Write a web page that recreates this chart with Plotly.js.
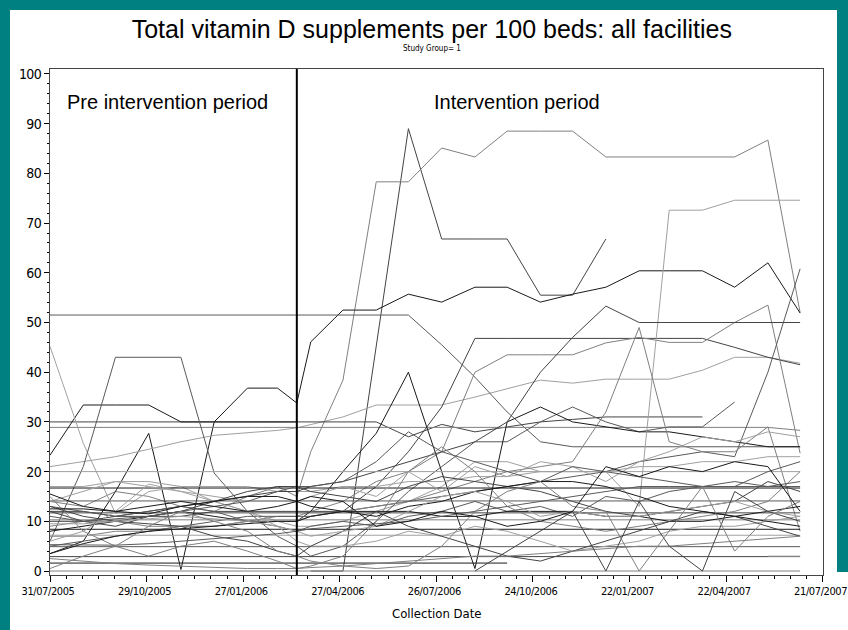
<!DOCTYPE html>
<html>
<head>
<meta charset="utf-8">
<script src="https://cdn.plot.ly/plotly-3.0.1.min.js"></script>
<style>
html,body{margin:0;padding:0;background:#008080;width:848px;height:630px;overflow:hidden;}
#chart{position:absolute;left:10px;top:10px;width:838px;height:620px;background:#fff;}
#rightband{position:absolute;left:837px;top:0;width:11px;height:572px;background:#008080;}
.xtick text{letter-spacing:-0.4px;}
.ytick text{letter-spacing:-0.6px;}
</style>
</head>
<body>
<div id="chart"></div>
<div id="rightband"></div>
<script>
// Collection dates (monthly collections, plus one at intervention start)
const dates = ['2005-07-31','2005-08-31','2005-09-30','2005-10-31','2005-11-30','2005-12-31',
  '2006-01-31','2006-02-28','2006-03-18','2006-03-31','2006-04-30','2006-05-31','2006-06-30',
  '2006-07-31','2006-08-31','2006-09-30','2006-10-31','2006-11-30','2006-12-31','2007-01-31',
  '2007-02-28','2007-03-31','2007-04-30','2007-05-31','2007-06-30'];
const interventionStart = '2006-03-18';
const tickDates = ['2005-07-31','2005-10-29','2006-01-27','2006-04-27','2006-07-26','2006-10-24','2007-01-22','2007-04-22','2007-07-21'];
const tickLabels = ['31/07/2005','29/10/2005','27/01/2006','27/04/2006','26/07/2006','24/10/2006','22/01/2007','22/04/2007','21/07/2007'];

// Supplements per 100 beds, one array per facility (null = not collected)
const f01 = [null,null,null,null,null,null,null,null,null,0,0,null,89,66.8,66.8,66.8,55.5,55.5,66.8,null,null,null,null,null,null];
const f02 = [14,13,16,15,13,12,15,17,15,24,38.4,78.3,78.3,85.1,83.3,88.5,88.5,88.5,83.3,83.3,83.3,83.3,83.3,86.7,52];
const f03 = [3.5,6,16,27.7,0.3,30,36.8,36.8,33.8,46.1,52.5,52.5,55.7,54.1,57.1,57.1,54.1,55.7,57.1,60.4,60.4,60.4,57.1,62,51.9];
const f04 = [21,22,23,24.5,26,27.3,27.8,28.3,28.8,29.5,31,33.4,33.4,33.4,35,36.7,38.4,37.8,38.6,38.6,38.6,40.4,43,43,41.8];
const f05 = [51.5,51.5,51.5,51.5,51.5,51.5,51.5,51.5,51.5,51.5,51.5,51.5,51.5,45.5,39,32,26,25,25,25,25,25,25,25,25];
const f06 = [30,30,30,30,30,30,30,30,30,30,30,30,27,29.5,28,29,30,30.5,31,31,31,31,null,null,null];
const f07 = [28.9,28.9,28.9,28.9,28.9,28.9,28.9,28.9,28.9,28.9,28.9,28.9,28.9,28.9,28.9,28.9,28.9,28.9,28.9,28.9,28.9,28.9,28.9,28.9,28.3];
const f08 = [23.3,33.4,33.4,33.4,30,30,30,30,30,null,null,null,null,null,null,null,null,null,null,null,null,null,null,null,null];
const f09 = [45.2,25.7,11.6,16,17,14,12,10,9,9,10,12,14,17,22,22,20,20,20,21,21,22,22,23,23];
const f10 = [6,21,43,43,43,19.7,12,7,5,3,5,10,16,21,26,26,30,33,30,28,29,29,34,null,null];
const f11 = [12,12,11,11,11,12,12,12,12,12,12,17,24,33,46.8,46.8,46.8,46.8,46.8,46.8,46.8,46.8,45,43,41.5];
const f12 = [9,10,10,9,9,9,10,11,11,12,14,18,20,24,40,43.5,43.5,43.5,45.9,47,46,46,50,53.5,23.7];
const f13 = [8,9,10,11,12,11,10,10,10,12,20,27.7,40,20,0.5,30,33,30,29,28,28,27,26,25,25];
const f14 = [17,17,18,18,17,17,17,16,16,16,17,17,18,18,19,19,20,20,20,13,72.6,72.6,74.6,74.6,74.6];
const f15 = [5,6,7,8,9,10,11,11,11,11,12,13,14,15,16,17,18,19,20,22,23,24,23,40,60.8];
const f16 = [10,10,11,12,13,14,15,16,16,17,18,20,22,24,26,30,40,47,53.3,50,50,50,50,50,50];
const f17 = [7,7,8,8,9,9,10,10,10,11,12,13,14,16,18,20,21,22,32,49,26,24,24,29,8];
const f18 = [16.7,16.7,16.7,16.7,16.7,16.7,16.7,16.7,16.7,16.7,16.7,16.7,16.7,16.7,16.7,16.7,16.7,16.7,16.7,16.7,16.7,16.7,16.7,16.7,16.7];
const f19 = [20,20,20,20,20,20,20,20,20,20,20,20,20,20,20,20,20,20,20,20,20,20,20,20,20];
const f20 = [14.1,14.1,14.1,14.1,14.1,14.1,14.1,14.1,14.1,14.1,14.1,14.1,14.1,14.1,14.1,14.1,14.1,14.1,14.1,14.1,14.1,14.1,14.1,14.1,14.1];
const f21 = [11.7,11.7,11.7,11.7,11.7,11.7,11.7,11.7,11.7,11.7,11.7,11.7,11.7,11.7,11.7,11.7,11.7,11.7,11.7,11.7,11.7,11.7,11.7,11.7,11.7];
const f22 = [10.3,10.3,10.3,10.3,10.3,10.3,10.3,10.3,10.3,10.3,10.3,10.3,10.3,10.3,10.3,10.3,10.3,10.3,10.3,10.3,10.3,10.3,10.3,10.3,10.3];
const f23 = [8.4,8.4,8.4,8.4,8.4,8.4,8.4,8.4,8.4,8.4,8.4,8.4,8.4,8.4,8.4,8.4,8.4,8.4,8.4,8.4,8.4,8.4,8.4,8.4,8.4];
const f24 = [7.2,7.2,7.2,7.2,7.2,7.2,7.2,7.2,7.2,7.2,7.2,7.2,7.2,7.2,7.2,7.2,7.2,7.2,7.2,7.2,7.2,7.2,7.2,7.2,7.2];
const f25 = [4.9,4.9,4.9,4.9,4.9,4.9,4.9,4.9,4.9,4.9,4.9,4.9,4.9,4.9,4.9,4.9,4.9,4.9,4.9,4.9,4.9,4.9,4.9,4.9,4.9];
const f26 = [2.9,2.9,2.9,2.9,2.9,2.9,2.9,2.9,2.9,2.9,2.9,2.9,2.9,2.9,2.9,2.9,2.9,2.9,2.9,2.9,2.9,2.9,2.9,2.9,2.9];
const f27 = [0,0,0,0,0,0,0,0,0,0,0,0,0,0,0,0,0,0,0,0,0,0,0,0,0];
const f28 = [1.6,1.6,1.6,1.6,1.6,1.6,1.6,1.6,1.6,1.6,1.6,1.6,1.6,1.6,1.6,1.6,null,null,null,null,null,null,null,null,null];
const f29 = [14,16,18,17,16,15,14,14,14,15,17,15,20,16,21,19,22,21,18,22,24,27,26,28,27];
const f30 = [13,12,11,12,13,12,10,9,8,9,10,9,11,12,14,12,13,11,15,14,16,17,17,20,22];
const f31 = [12,10,9,11,12,14,16,17,17,16,15,14,17,19,18,17,16,14,12,11,12,13,14,18,16];
const f32 = [15,8,5,3,5,6,4,2,0.5,1,3,10,20,25,20,13,10,9,8,9,10,11,12,14,20];
const f33 = [3.5,5.5,7,8,8.5,9,9.5,10,10,11,12,12,12,11,11,12,12,12,11,11,10,10,11,12,13];
const f34 = [6,8,12,17.5,16,14,12,9,6,5,5,6,8,7,9,8,6,4,5,6,8,9,9,10,11];
const f35 = [11,10,10.5,11,12,13,14,16,17,17,18,22,28,24,22,20,18,21,20,19,18,17,18,17,18];
const f36 = [13,11,10,9.5,9,7,6,4,3,5,8,12,9,7,5,3,2,4,6,8,10,12,11,9,7];
const f37 = [2.5,2,1.5,1.2,1,0.8,0.5,0.5,0.5,0.7,1,1.5,2,2.5,3,3,3.5,4,4.5,5,5,5.5,6,6.5,7];
const f38 = [12.5,12.5,12,11.5,13,14,15,15,14,13,12,11,13,14,16,17,18,18,17,15,13,12,11,10,9];
const f39 = [9.5,9.5,10,10.5,11,10.5,10,9,8,7,8,9,12,15,16,14,11,12,11,11,12,13,14,12,11];
const f40 = [5.3,5.3,5.2,5.5,6,6.5,7,7.5,8,8.5,9,9.5,10,11,12,13,14,15,16,17,17,17,17,17,17];
const f41 = [null,null,null,null,null,null,null,null,null,null,null,null,null,null,0,4,8,12,0,14,5,0,16,12,10];
const f42 = [0.5,3,5,9,12,10,8,4,3,2,1,0.5,1,5,12,16,18,13,12,0,8,17,4,11,14];
const f43 = [15.5,13,12,13,14,13,12,13,14,15,14,9,10,12,11,9,10,12,21,19,21,20,22,21,12];
const f44 = [null,null,null,null,null,null,null,null,null,null,null,null,null,null,null,null,null,null,null,null,null,null,null,3,3];

const facilities = [f01,f02,f03,f04,f05,f06,f07,f08,f09,f10,f11,f12,f13,f14,f15,f16,f17,f18,f19,f20,f21,f22,
  f23,f24,f25,f26,f27,f28,f29,f30,f31,f32,f33,f34,f35,f36,f37,f38,f39,f40,f41,f42,f43,f44];

const palette = ['#444444','#808080','#1a1a1a','#a0a0a0','#5a5a5a'];

const traces = facilities.map((vals, i) => ({
  type: 'scatter', mode: 'lines', x: dates, y: vals, connectgaps: true,
  line: {color: palette[i % palette.length], width: 1},
  hoverinfo: 'skip', showlegend: false
}));

const narrow = 'DejaVu Sans Condensed, Liberation Sans, Arial, sans-serif';
const sans = 'Liberation Sans, Arial, sans-serif';
const layout = {
  width: 838, height: 620,
  margin: {l: 40, r: 25, t: 59, b: 55},
  paper_bgcolor: '#ffffff', plot_bgcolor: '#ffffff',
  font: {family: sans, color: '#000'},
  title: {text: 'Total vitamin D supplements per 100 beds: all facilities',
    x: 0.494, xanchor: 'center', xref: 'paper', y: 0.969, yref: 'container', yanchor: 'middle',
    font: {family: sans, size: 25, color: '#000'}},
  xaxis: {
    type: 'date', range: ['2005-07-31', '2007-07-21 08:00'],
    tickvals: tickDates, ticktext: tickLabels, ticklabeloverflow: 'allow', ticklabelshift: -2,
    ticks: 'outside', ticklen: 6, tickcolor: '#000', tickwidth: 1,
    showgrid: false, zeroline: false,
    showline: true, linecolor: '#444', linewidth: 1, mirror: true,
    tickfont: {family: narrow, size: 11, color: '#000'},
    minor: {dtick: 15 * 86400000, tick0: '2005-07-31', ticks: 'outside', ticklen: 3, tickcolor: '#000', showgrid: false}
  },
  yaxis: {
    range: [-0.8, 101], tick0: 0, dtick: 10,
    ticks: 'outside', ticklen: 5, tickcolor: '#000',
    showgrid: false, zeroline: false,
    showline: true, linecolor: '#444', linewidth: 1, mirror: true,
    tickfont: {family: narrow, size: 14, color: '#000'},
    minor: {dtick: 2, ticks: 'outside', ticklen: 2, tickcolor: '#000', showgrid: false}
  },
  shapes: [{type: 'line', xref: 'x', yref: 'paper', x0: interventionStart, x1: interventionStart, y0: 0, y1: 1,
    line: {color: '#000', width: 2}}],
  annotations: [
    {text: 'Study Group= 1', xref: 'paper', yref: 'paper', x: 0.494, y: 1.04, showarrow: false,
      font: {family: narrow, size: 8, color: '#000'}, xanchor: 'center', yanchor: 'middle'},
    {text: 'Pre intervention period', xref: 'paper', yref: 'paper', x: 0.019, y: 0.935, showarrow: false,
      font: {family: sans, size: 20, color: '#000'}, xanchor: 'left', yanchor: 'middle'},
    {text: 'Intervention period', xref: 'paper', yref: 'paper', x: 0.494, y: 0.935, showarrow: false,
      font: {family: sans, size: 20, color: '#000'}, xanchor: 'left', yanchor: 'middle'},
    {text: 'Collection Date', xref: 'paper', yref: 'paper', x: 0.5, y: -0.077, showarrow: false,
      font: {family: narrow, size: 13, color: '#000'}, xanchor: 'center', yanchor: 'middle'}
  ]
};

Plotly.newPlot('chart', traces, layout, {displayModeBar: false, staticPlot: true});
</script>
</body>
</html>
